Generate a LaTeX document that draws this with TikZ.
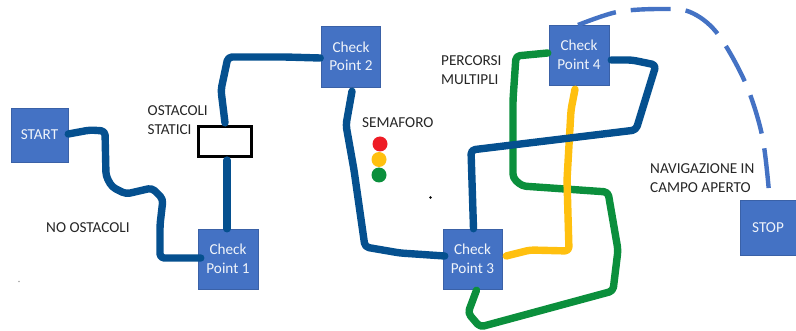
\documentclass[tikz,border=0pt]{standalone}
\usepackage{fontspec}
\setmainfont{Carlito}
\definecolor{boxblue}{HTML}{4472C4}
\definecolor{pathblue}{HTML}{05508F}
\definecolor{pathgreen}{HTML}{0B8F3C}
\definecolor{pathyellow}{HTML}{FFC00F}
\definecolor{lightred}{HTML}{EE1C25}
\tikzset{
  stepbox/.style={draw=boxblue!85!black,line width=.5pt,fill=boxblue,text=white!92!boxblue,font=\fontsize{15.2}{18.5}\selectfont,align=center,inner sep=0pt,minimum width=#1},
  stepbox/.default=60pt,
  lbl/.style={text=black!85,font=\fontsize{15.2}{18.5}\selectfont,align=left,anchor=west,inner sep=0pt},
  route/.style={line width=7.4pt,line cap=round,line join=round,rounded corners=4pt},
  lamp/.style={circle,inner sep=0pt,minimum size=15pt},
}
\begin{document}
\begin{tikzpicture}[x=1pt,y=-1pt]
\useasboundingbox (0,0) rectangle (796,331);
\node[stepbox=57pt,minimum height=54pt] (start) at (39.5,135) {START};
\node[stepbox=60pt,minimum height=60pt] (cp1) at (228,259) {Check\\Point 1};
\node[stepbox=59pt,minimum height=61pt] (cp2) at (351,56.5) {Check\\Point 2};
\node[stepbox=59pt,minimum height=60pt] (cp3) at (472.5,259) {Check\\Point 3};
\node[stepbox=60pt,minimum height=60pt] (cp4) at (579,55) {Check\\Point 4};
\node[stepbox=56pt,minimum height=55pt] (stop) at (768,228) {STOP};
\node[draw=black,line width=2.2pt,fill=white,minimum width=53pt,minimum height=30pt,inner sep=0pt] (obst) at (225,141.5) {};

\node[lbl] (l1) at (46,228) {NO OSTACOLI};
\node[lbl] (l2) at (147.5,120) {OSTACOLI\\STATICI};
\node[lbl] (l3) at (362,122.5) {SEMAFORO};
\node[lbl] (l4) at (441,70) {PERCORSI\\MULTIPLI};
\node[lbl] (l5) at (650,178) {NAVIGAZIONE IN\\CAMPO APERTO};

\node[lamp,fill=lightred] (red) at (380,144) {};
\node[lamp,fill=pathyellow] (amber) at (379,159.5) {};
\node[lamp,fill=pathgreen] (go) at (379,175) {};

\draw[route,pathblue] ([yshift=1pt]start.east) -- (90,130) -- (105,131) -- (106,176) -- (112,187) -- (126,194) -- (152,188) -- (163,199) -- (160,225) -- (160,258) -- ([xshift=3pt,yshift=1pt]cp1.west);
\draw[route,pathblue] ([xshift=-1pt]cp1.north) -- ([xshift=2pt,yshift=-2.5pt]obst.south);
\draw[route,pathblue] ([yshift=2.5pt]obst.north) -- (221,90) -- (228,57) -- (285,57) -- ([yshift=-1.5pt,xshift=-1pt]cp2.west);
\draw[route,pathblue] ([xshift=1pt,yshift=-4pt]cp2.south) -- (346,125) -- (354,170) -- (365,247) -- (400,253) -- ([xshift=2pt,yshift=3pt]cp3.west);

\draw[route,pathgreen] ([xshift=-1pt,yshift=2pt]cp4.west) -- (516,56) -- (513,100) -- (513,178) -- (522,186) -- (608,192) -- (618,250) -- (613,291) -- (480,327) -- (468,313) -- ([xshift=4pt,yshift=-1pt]cp3.south);
\draw[route,pathyellow] ([xshift=4pt,yshift=3pt]cp3.east) -- (530,250) -- (569,251) -- (567,180) -- (571,110) -- ([xshift=-4pt,yshift=-4pt]cp4.south);
\draw[route,pathblue] ([xshift=1pt]cp3.north) -- (471,150) -- (636,130) -- (656,65) -- (632,60) -- ([xshift=2pt,yshift=-5pt]cp4.east);

\draw[boxblue,line width=4.4pt,dash pattern=on 40pt off 15pt] plot[smooth,tension=.55] coordinates {(578,25) (617,12) (660,9) (690,12) (717,33) (745,82) (762,135) (769,192)};
\fill[black] (430.5,197.5) circle (1.4pt);
\fill[black!35] (19,281.5) circle (0.8pt);
\end{tikzpicture}
\end{document}
